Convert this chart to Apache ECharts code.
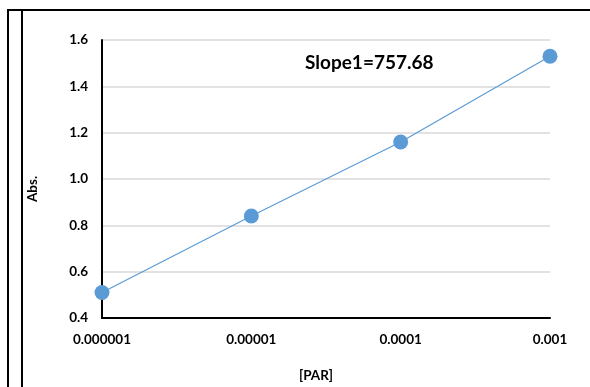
<!DOCTYPE html>
<html>
<head>
<meta charset="utf-8">
<script src="https://cdn.jsdelivr.net/npm/echarts@6/dist/echarts.min.js"></script>
<style>
  html, body { margin: 0; padding: 0; background: #fff; }
  #chart { width: 590px; height: 387px; }
</style>
</head>
<body>
<div id="chart"></div>
<script>
// PAR concentration (log scale) vs absorbance
const parConc = [0.000001, 0.00001, 0.0001, 0.001];
const absValues = [0.51, 0.84, 1.16, 1.53];
const xTickLabels = ['0.000001', '0.00001', '0.0001', '0.001'];
const yTicks = [0.4, 0.6, 0.8, 1.0, 1.2, 1.4, 1.6];
const slopeLabel = 'Slope1=757.68';

const FONT = 'Lato, "Open Sans", sans-serif';
const chart = echarts.init(document.getElementById('chart'), null, { renderer: 'canvas' });

const points = parConc.map((x, i) => [x, absValues[i]]);

chart.setOption({
  animation: false,
  backgroundColor: '#fff',
  grid: { left: 102, top: 40, right: 40, bottom: 69 },
  xAxis: {
    type: 'log',
    logBase: 10,
    min: parConc[0],
    max: parConc[parConc.length - 1],
    axisLine: { show: true, lineStyle: { color: '#000', width: 2 } },
    axisTick: { show: false },
    splitLine: { show: false },
    axisLabel: {
      color: '#000', fontWeight: 'bold', fontSize: 13.5, fontFamily: FONT, margin: 15,
      formatter: v => {
        const idx = Math.round(Math.log10(v) - Math.log10(parConc[0]));
        return xTickLabels[idx] !== undefined ? xTickLabels[idx] : '';
      }
    }
  },
  yAxis: {
    type: 'value',
    min: yTicks[0],
    max: yTicks[yTicks.length - 1],
    interval: 0.2,
    axisLine: { show: true, lineStyle: { color: '#000', width: 2 } },
    axisTick: { show: false },
    splitLine: { show: true, lineStyle: { color: '#d9d9d9', width: 1.5 } },
    axisLabel: {
      color: '#000', fontWeight: 'bold', fontSize: 13.5, fontFamily: FONT, margin: 14,
      formatter: v => v.toFixed(1)
    }
  },
  series: [{
    type: 'line',
    data: points,
    symbol: 'circle',
    symbolSize: 15,
    itemStyle: { color: '#5b9bd5' },
    lineStyle: { color: '#5b9bd5', width: 1.2 },
    z: 3
  }],
  graphic: [
    // outer frame lines
    { type: 'line', shape: { x1: 7, y1: 10, x2: 590, y2: 10 }, style: { stroke: '#000', lineWidth: 2 } },
    { type: 'line', shape: { x1: 8, y1: 10, x2: 8, y2: 387 }, style: { stroke: '#000', lineWidth: 2 } },
    { type: 'line', shape: { x1: 22, y1: 10, x2: 22, y2: 387 }, style: { stroke: '#000', lineWidth: 2 } },
    // axis titles
    {
      type: 'text', x: 33, y: 189, rotation: Math.PI / 2,
      style: { text: 'Abs.', fill: '#000', font: 'bold 13.5px ' + FONT, align: 'center', verticalAlign: 'middle' }
    },
    {
      type: 'text', x: 316, y: 376,
      style: { text: '[PAR]', fill: '#000', font: 'bold 13.5px ' + FONT, align: 'center', verticalAlign: 'middle' }
    },
    {
      type: 'text', x: 305, y: 63,
      style: { text: slopeLabel, fill: '#000', font: 'bold 19px ' + FONT, align: 'left', verticalAlign: 'middle' }
    }
  ]
});
</script>
</body>
</html>
